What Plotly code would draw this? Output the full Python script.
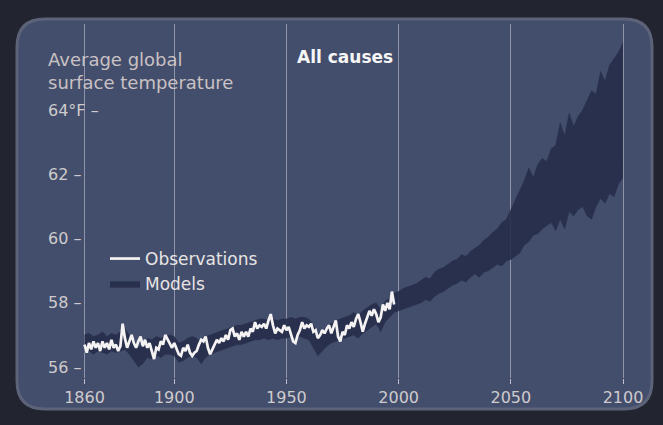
import plotly.graph_objects as go

# ---------------- data ----------------
obs_years = list(range(1860, 1999))
obs_temp = [
    56.7, 56.45, 56.75, 56.55, 56.8, 56.6, 56.75, 56.5, 56.8, 56.6,      # 1860s
    56.75, 56.55, 56.85, 56.6, 56.7, 56.5, 56.65, 57.35, 56.9, 56.6,     # 1870s
    56.8, 57.0, 56.75, 56.6, 56.8, 56.95, 56.65, 56.85, 56.6, 56.75,     # 1880s
    56.5, 56.25, 56.6, 56.55, 56.8, 56.7, 57.0, 56.85, 56.75, 56.6,      # 1890s
    56.75, 56.55, 56.4, 56.35, 56.6, 56.5, 56.7, 56.45, 56.35, 56.45,    # 1900s
    56.5, 56.7, 56.85, 56.8, 56.95, 56.6, 56.4, 56.55, 56.7, 56.85,      # 1910s
    56.75, 56.9, 56.8, 57.0, 56.85, 57.15, 57.2, 56.95, 57.05, 56.85,    # 1920s
    57.1, 56.95, 57.1, 56.95, 57.2, 57.1, 57.4, 57.2, 57.3, 57.25,       # 1930s
    57.35, 57.2, 57.45, 57.65, 57.3, 57.05, 57.2, 57.15, 57.1, 57.3,     # 1940s
    57.15, 57.25, 57.05, 56.8, 56.75, 57.0, 57.15, 57.4, 57.2, 57.3,     # 1950s
    57.25, 57.35, 57.1, 57.15, 56.9, 57.0, 57.15, 57.05, 57.2, 57.3,     # 1960s
    57.05, 57.25, 57.45, 56.95, 56.8, 57.1, 57.0, 57.3, 57.2, 57.4,      # 1970s
    57.25, 57.5, 57.65, 57.4, 57.1, 57.35, 57.55, 57.75, 57.6, 57.8,     # 1980s
    57.65, 57.4, 57.55, 57.95, 57.75, 58.0, 57.8, 58.35, 57.95,          # 1990s
]

model_years = list(range(1860, 2101, 2))
model_low = [
    56.45, 56.5, 56.4, 56.5, 56.45, 56.4, 56.5, 56.45, 56.5, 56.55,
    56.4, 56.2, 56.0, 56.1, 56.3, 56.25, 56.35, 56.3, 56.4, 56.4,
    56.35, 56.15, 56.2, 56.3, 56.35, 56.3, 56.1, 56.3, 56.4, 56.45,
    56.5, 56.55, 56.6, 56.65, 56.7, 56.7, 56.75, 56.8, 56.85, 56.85,
    56.9, 56.85, 56.9, 56.85, 56.9, 56.9, 56.95, 56.9, 56.95, 56.9,
    56.85, 56.6, 56.35, 56.5, 56.65, 56.75, 56.8, 56.85, 56.9, 56.95,
    57.0, 56.9, 57.05, 57.15, 57.25, 57.35, 57.1, 57.4, 57.55, 57.7,
    57.75, 57.8, 57.85, 57.9, 57.95, 58.0, 58.1, 58.05, 58.2, 58.3,
    58.35, 58.45, 58.55, 58.6, 58.7, 58.65, 58.8, 58.9, 58.8, 58.95,
    59.0, 59.1, 59.2, 59.15, 59.3, 59.35, 59.45, 59.55, 59.8, 59.9,
    60.1, 60.15, 60.3, 60.4, 60.5, 60.25, 60.6, 60.3, 60.85, 60.7,
    60.9, 61.0, 60.7, 60.6, 61.0, 61.25, 61.1, 61.4, 61.3, 61.7,
    61.9,
]
model_high = [
    57.0, 57.05, 56.95, 57.0, 57.1, 56.95, 57.05, 57.0, 57.1, 57.2,
    57.0, 56.85, 56.6, 56.75, 56.9, 56.85, 56.95, 56.9, 56.95, 57.0,
    56.95, 56.75, 56.8, 56.9, 56.95, 56.9, 56.75, 56.95, 57.0, 57.05,
    57.1, 57.15, 57.2, 57.25, 57.3, 57.3, 57.35, 57.4, 57.45, 57.5,
    57.5, 57.45, 57.5, 57.45, 57.5, 57.5, 57.55, 57.5, 57.55, 57.55,
    57.5, 57.3, 57.05, 57.15, 57.25, 57.35, 57.45, 57.5, 57.55, 57.6,
    57.7, 57.6, 57.75, 57.85, 57.95, 58.0, 57.8, 58.05, 58.15, 58.3,
    58.35, 58.45, 58.5, 58.55, 58.6, 58.7, 58.8, 58.75, 58.95, 59.05,
    59.1, 59.2, 59.3, 59.35, 59.5, 59.45, 59.6, 59.7, 59.8, 59.95,
    60.05, 60.2, 60.3, 60.5, 60.6, 60.9, 61.2, 61.5, 61.8, 62.2,
    61.9, 62.3, 62.5, 62.4, 62.8, 62.9, 63.6, 63.2, 63.9, 63.5,
    63.8, 64.0, 64.3, 64.6, 64.5, 65.2, 64.9, 65.4, 65.6, 65.8,
    66.1,
]

x_ticks = [1860, 1900, 1950, 2000, 2050, 2100]
x_tick_labels = ["1860", "1900", "1950", "2000", "2050", "2100"]
y_ticks = [56, 58, 60, 62, 64]
y_tick_labels = ["56 –", "58 –", "60 –", "62 –", "64°F –"]

title_text = "Average global<br>surface temperature"
panel_title = "All causes"
obs_name = "Observations"
model_name = "Models"

# ---------------- layout geometry ----------------
W, H = 663, 425
L, R, T, B = 44, 643, 24, 378
FONT = "DejaVu Sans"


def px(xp):
    return (xp - L) / (R - L)


def py(yp):
    return (B - yp) / (B - T)


def rounded_rect(x0, y0, x1, y1, r):
    pts = [
        f"M {px(x0 + r)},{py(y0)}",
        f"L {px(x1 - r)},{py(y0)}",
        f"Q {px(x1)},{py(y0)} {px(x1)},{py(y0 + r)}",
        f"L {px(x1)},{py(y1 - r)}",
        f"Q {px(x1)},{py(y1)} {px(x1 - r)},{py(y1)}",
        f"L {px(x0 + r)},{py(y1)}",
        f"Q {px(x0)},{py(y1)} {px(x0)},{py(y1 - r)}",
        f"L {px(x0)},{py(y0 + r)}",
        f"Q {px(x0)},{py(y0)} {px(x0 + r)},{py(y0)} Z",
    ]
    return " ".join(pts)


fig = go.Figure()

band_color = "rgba(38,46,74,0.9)"
fig.add_trace(go.Scatter(
    x=model_years, y=model_low, mode="lines",
    line=dict(color=band_color, width=0.5),
    showlegend=False, hoverinfo="skip",
))
fig.add_trace(go.Scatter(
    x=model_years, y=model_high, mode="lines",
    line=dict(color=band_color, width=0.5),
    fill="tonexty", fillcolor=band_color,
    name=model_name, legendrank=2,
))
fig.add_trace(go.Scatter(
    x=obs_years, y=obs_temp, mode="lines",
    line=dict(color="#f4f2f2", width=2.7),
    name=obs_name, legendrank=1,
))

shapes = [
    dict(type="path", xref="paper", yref="paper",
         path=rounded_rect(17, 19, 652, 409, 28),
         fillcolor="#434e6c", line=dict(color="#5c6379", width=3),
         layer="below"),
]

annotations = [
    dict(text=title_text, x=px(46), y=py(47), xref="paper", yref="paper",
         xanchor="left", yanchor="top", align="left", showarrow=False,
         font=dict(family=FONT, size=18, color="#c9c1c3")),
    dict(text=f"<b>{panel_title}</b>", x=px(345), y=py(57), xref="paper", yref="paper",
         xanchor="center", yanchor="middle", showarrow=False,
         font=dict(family=FONT, size=17, color="#f6f6f6")),
]
for v, t in zip(y_ticks, y_tick_labels):
    annotations.append(dict(
        text=t, x=px(46), y=v, xref="paper", yref="y",
        xanchor="left", yanchor="middle", showarrow=False,
        font=dict(family=FONT, size=16, color="#cfcbcd")))

fig.update_layout(
    width=W, height=H,
    margin=dict(l=L, r=W - R, t=T, b=H - B),
    paper_bgcolor="#22242f",
    plot_bgcolor="rgba(0,0,0,0)",
    shapes=shapes,
    annotations=annotations,
    showlegend=True,
    legend=dict(x=px(105), y=py(241), xanchor="left", yanchor="top",
                bgcolor="rgba(0,0,0,0)", itemwidth=30, traceorder="normal",
                font=dict(family=FONT, size=17, color="#e8e4e4"),
                tracegroupgap=0),
    xaxis=dict(range=[1841.95, 2108.91], tickvals=x_ticks, ticktext=x_tick_labels,
               showgrid=True, gridcolor="rgba(205,205,220,0.55)", gridwidth=1,
               zeroline=False, showline=False,
               ticks="outside", ticklen=5, tickcolor="rgba(220,220,230,0.8)",
               tickfont=dict(family=FONT, size=16, color="#cfcbcd")),
    yaxis=dict(range=[55.66, 66.68], tickvals=y_ticks, showticklabels=False,
               showgrid=False, zeroline=False, showline=False, ticks=""),
)

fig.write_html("out.html", config={"displayModeBar": False},
               post_script="document.body.style.margin='0';")
